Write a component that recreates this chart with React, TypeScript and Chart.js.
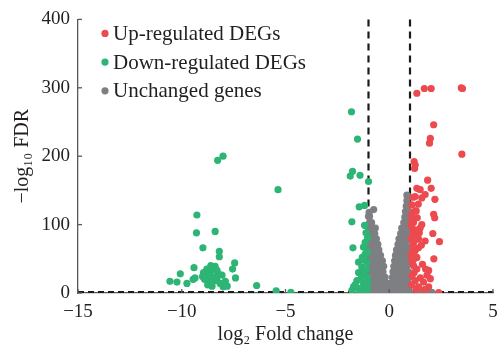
import React, { useEffect, useRef } from "react";
import { Chart, registerables } from "chart.js";

Chart.register(...registerables);

// ---------- data ----------
const seriesNames = ["Up-regulated DEGs", "Down-regulated DEGs", "Unchanged genes"];
const seriesColors = ["#ec4a4f", "#2cb574", "#7e7f82"];
const xRange = [-15, 5];
const yRange = [0, 400];
const xStep = 5;
const yStep = 100;
const foldThresholds = [-1, 1];
const fdrThreshold = 1.3;
const xTitle = "log\u2082 Fold change";
const yTitle = "\u2212log\u2081\u2080 FDR";

const upRegulated: [number, number][] = [
  [1.33, 292], [1.69, 299], [2.02, 299], [3.53, 299], [3.47, 300], [2.14, 246], [1.98, 226], [1.94, 219],
  [3.5, 203], [1.2, 192], [1.25, 187], [1.22, 182], [1.85, 165], [1.33, 153], [1.49, 151], [2.02, 153],
  [1.25, 141], [1.73, 144], [1.57, 139], [2.2, 137], [1.25, 120], [1.09, 117], [2.14, 115], [2.19, 110],
  [1.57, 100], [1.49, 95], [1.17, 103], [1.17, 88], [1.33, 83], [1.17, 74], [1.41, 79], [2.1, 87],
  [1.73, 76], [2.42, 75], [1.41, 66], [1.25, 62], [1.33, 52], [2.15, 50], [1.17, 40], [1.33, 35],
  [1.9, 33], [1.82, 26], [1.98, 21], [1.65, 16], [1.41, 9], [1.9, 9], [2.38, 0.6],
  [1.09, 129], [1.09, 110], [1.1, 95], [1.05, 80], [1.12, 68], [1.05, 55], [1.1, 45], [1.2, 30],
  [1.1, 25], [1.25, 18], [1.08, 12], [1.3, 5], [1.15, 140], [1.05, 100], [1.15, 60], [1.3, 120],
  [1.4, 130], [1.35, 110], [1.45, 88], [1.55, 70], [1.25, 78], [1.3, 92], [1.6, 42], [1.75, 35],
  [1.5, 22], [1.7, 5], [1.2, 50],
];

const downRegulated: [number, number][] = [
  [-8.01, 200], [-8.27, 194], [-5.36, 151], [-9.27, 114], [-9.29, 88], [-8.39, 90], [-8.98, 66], [-8.19, 61],
  [-8.19, 53], [-7.45, 44], [-7.55, 35], [-7.41, 22], [-9.41, 37], [-10.07, 28], [-10.57, 17], [-10.23, 16],
  [-9.75, 14], [-9.45, 20], [-9.36, 22], [-6.39, 11], [-5.45, 3], [-4.74, 1],
  [-8.79, 35], [-8.39, 39], [-8.87, 26], [-8.47, 23], [-8.71, 18], [-8.23, 28], [-8.54, 10], [-8.3, 18],
  [-8.06, 26], [-7.9, 17], [-8.01, 9], [-7.81, 10], [-8.95, 30], [-8.6, 32], [-8.45, 36], [-8.65, 25],
  [-8.9, 20], [-8.35, 24], [-8.55, 15], [-8.15, 14], [-9.0, 24], [-8.75, 12], [-8.6, 40], [-8.3, 33],
  [-1.82, 265], [-1.53, 225], [-1.77, 178], [-1.88, 171], [-1.41, 172], [-1.0, 163], [-1.45, 126], [-1.19, 128],
  [-1.8, 104], [-1.19, 99], [-1.04, 81], [-1.75, 66], [-1.24, 67], [-1.16, 74], [-1.16, 57], [-1.48, 45],
  [-1.32, 38], [-1.24, 30], [-1.48, 30], [-1.06, 23], [-1.56, 18], [-1.72, 9], [-1.4, 6], [-1.06, 6],
  [-1.8, 4], [-1.24, 14], [-1.08, 45], [-1.05, 60], [-1.1, 35], [-1.2, 48], [-1.35, 22], [-1.55, 8],
  [-1.65, 12], [-1.3, 2], [-1.1, 2], [-1.45, 1], [-1.2, 8], [-1.04, 15], [-1.3, 52], [-1.12, 88],
];

const unchanged: [number, number][] = [
  // left lobe
  [-1.02, 2], [-0.8, 2], [-0.58, 2], [-0.36, 2], [-0.15, 2], [-0.04, 2],
  [-0.95, 8], [-0.7, 8], [-0.45, 8], [-0.22, 8], [-0.08, 8],
  [-1.02, 15], [-0.8, 15], [-0.58, 15], [-0.36, 15], [-0.14, 15],
  [-0.95, 23], [-0.7, 23], [-0.45, 23], [-0.2, 23],
  [-1.02, 31], [-0.8, 31], [-0.58, 31], [-0.3, 31],
  [-0.95, 39], [-0.7, 39], [-0.45, 39], [-0.27, 39],
  [-1.02, 47], [-0.8, 47], [-0.58, 47], [-0.33, 47],
  [-0.95, 55], [-0.7, 55], [-0.42, 55],
  [-1.02, 63], [-0.8, 63], [-0.5, 63],
  [-0.95, 71], [-0.72, 71], [-0.55, 71],
  [-1.02, 79], [-0.82, 79], [-0.62, 79],
  [-0.95, 87], [-0.7, 87],
  [-1.0, 95], [-0.82, 95], [-0.67, 95],
  [-0.95, 103], [-0.85, 103],
  [-1.0, 112], [-0.95, 112], [-0.97, 118], [-0.75, 122],
  // right lobe
  [0.06, 2], [0.25, 2], [0.45, 2], [0.65, 2], [0.85, 2], [0.98, 2],
  [0.1, 8], [0.35, 8], [0.55, 8], [0.75, 8], [0.95, 8],
  [0.12, 15], [0.3, 15], [0.5, 15], [0.7, 15], [0.9, 15],
  [0.15, 23], [0.4, 23], [0.6, 23], [0.8, 23], [0.97, 23],
  [0.18, 31], [0.35, 31], [0.55, 31], [0.75, 31], [0.93, 31],
  [0.22, 39], [0.45, 39], [0.65, 39], [0.85, 39],
  [0.26, 47], [0.4, 47], [0.6, 47], [0.8, 47], [0.97, 47],
  [0.3, 55], [0.5, 55], [0.7, 55], [0.9, 55],
  [0.35, 63], [0.55, 63], [0.75, 63], [0.95, 63],
  [0.42, 71], [0.62, 71], [0.82, 71],
  [0.47, 79], [0.68, 79], [0.9, 79],
  [0.55, 87], [0.75, 87], [0.95, 87],
  [0.6, 95], [0.8, 95],
  [0.7, 103], [0.88, 103],
  [0.75, 111], [0.92, 111],
  [0.78, 119], [0.95, 119],
  [0.82, 127], [0.92, 127],
  [0.85, 135], [0.85, 143], [0.92, 141],
  // beyond threshold, not significant
  [1.33, 0.8], [1.5, 0.8], [1.65, 0.8], [1.9, 0.8], [2.05, 0.8],
];

const seriesData = [upRegulated, downRegulated, unchanged];

const FONT = "'Liberation Serif', 'DejaVu Serif', serif";
const TEXT = "#231f20";
const AXIS = "#58595b";

const decorPlugin = {
  id: "decor",
  beforeDatasetsDraw(chart: any) {
    const { ctx, chartArea, scales } = chart;
    const x = scales.x;
    const y = scales.y;
    ctx.save();
    ctx.strokeStyle = "#1b1b1b";
    ctx.lineWidth = 2.2;
    ctx.setLineDash([7, 5]);
    for (const t of foldThresholds) {
      const px = x.getPixelForValue(t);
      ctx.beginPath();
      ctx.moveTo(px, chartArea.top);
      ctx.lineTo(px, chartArea.bottom);
      ctx.stroke();
    }
    ctx.lineWidth = 2;
    ctx.setLineDash([6, 4]);
    const py = y.getPixelForValue(fdrThreshold);
    ctx.beginPath();
    ctx.moveTo(chartArea.left, py);
    ctx.lineTo(chartArea.right, py);
    ctx.stroke();
    ctx.restore();
  },
  afterDraw(chart: any) {
    const { ctx, chartArea, scales } = chart;
    const x = scales.x;
    const y = scales.y;
    ctx.save();
    // inward ticks
    ctx.strokeStyle = AXIS;
    ctx.lineWidth = 1.3;
    ctx.setLineDash([]);
    for (const t of x.ticks) {
      const px = x.getPixelForValue(t.value);
      ctx.beginPath();
      ctx.moveTo(px, chartArea.bottom);
      ctx.lineTo(px, chartArea.bottom - 4);
      ctx.stroke();
    }
    for (const t of y.ticks) {
      const py = y.getPixelForValue(t.value);
      ctx.beginPath();
      ctx.moveTo(chartArea.left, py);
      ctx.lineTo(chartArea.left + 4, py);
      ctx.stroke();
    }
    // legend
    ctx.font = `21px ${FONT}`;
    ctx.textBaseline = "alphabetic";
    ctx.textAlign = "left";
    seriesNames.forEach((name, i) => {
      const cy = chartArea.top + 14 + i * 28.7;
      ctx.beginPath();
      ctx.arc(chartArea.left + 27, cy, 3.6, 0, Math.PI * 2);
      ctx.fillStyle = seriesColors[i];
      ctx.fill();
      ctx.fillStyle = TEXT;
      ctx.fillText(name, chartArea.left + 35, cy + 6.5);
    });
    ctx.restore();
  },
};

const minus = (v: number) => (v < 0 ? "\u2212" + Math.abs(v) : String(v));

export default function App() {
  const canvasRef = useRef<HTMLCanvasElement | null>(null);

  useEffect(() => {
    if (!canvasRef.current) return;
    const chart = new Chart(canvasRef.current, {
      type: "scatter",
      data: {
        datasets: seriesNames.map((name, i) => ({
          label: name,
          data: seriesData[i].map(([a, b]) => ({ x: a, y: b })),
          backgroundColor: seriesColors[i],
          borderWidth: 0,
          pointRadius: 3.6,
          pointHoverRadius: 3.6,
        })),
      },
      options: {
        animation: false,
        responsive: false,
        devicePixelRatio: 1,
        layout: { padding: { left: 0, right: 0, top: 16, bottom: 0 } },
        plugins: {
          legend: { display: false },
          tooltip: { enabled: false },
        },
        scales: {
          x: {
            type: "linear",
            min: xRange[0],
            max: xRange[1],
            afterFit: (s: any) => {
              s.height = 59;
              s.paddingRight = 6;
            },
            ticks: {
              stepSize: xStep,
              padding: 8,
              color: TEXT,
              font: { family: FONT, size: 19 },
              callback: (v: any) => minus(Number(v)),
              maxRotation: 0,
            },
            grid: { display: false, drawTicks: false },
            border: { display: true, color: AXIS, width: 1.3 },
            title: {
              display: true,
              text: xTitle,
              color: TEXT,
              font: { family: FONT, size: 20 },
              padding: { top: 0, bottom: 5 },
            },
          },
          y: {
            type: "linear",
            min: yRange[0],
            max: yRange[1],
            afterFit: (s: any) => {
              s.width = 78;
            },
            ticks: {
              stepSize: yStep,
              padding: 8,
              color: TEXT,
              font: { family: FONT, size: 19 },
              callback: (v: any) => minus(Number(v)),
            },
            grid: { display: false, drawTicks: false },
            border: { display: true, color: AXIS, width: 1.3 },
            title: {
              display: true,
              text: yTitle,
              color: TEXT,
              font: { family: FONT, size: 20 },
              padding: { top: 11, bottom: 0 },
            },
          },
        },
      },
      plugins: [decorPlugin],
    } as any);
    return () => chart.destroy();
  }, []);

  return (
    <div style={{ position: "absolute", left: 0, top: 0, width: 499, height: 352, background: "#fff" }}>
      <canvas ref={canvasRef} width={499} height={352} />
    </div>
  );
}
